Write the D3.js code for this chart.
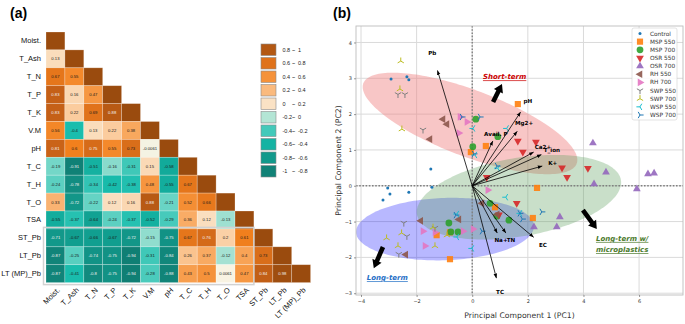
<!DOCTYPE html>
<html>
<head>
<meta charset="utf-8">
<script src="https://cdn.jsdelivr.net/npm/d3@7"></script>
<style>
  body { margin: 0; background: #fff; }
  svg { display: block; }
</style>
</head>
<body>
<svg id="chart" width="685" height="324"></svg>
<script>
// ---------- panel (a): correlation matrix ----------
const vars = ["Moist.", "T_Ash", "T_N", "T_P", "T_K", "V.M", "pH", "T_C", "T_H", "T_O", "TSA", "ST_Pb", "LT_Pb", "LT (MP)_Pb"];
// lower triangle, row by row (diagonal = 1 is implied)
const corrRows = [
  [],
  [0.13],
  [0.67, 0.55],
  [0.83, 0.16, 0.47],
  [0.83, 0.22, 0.69, 0.88],
  [0.56, -0.4, 0.13, 0.22, 0.38],
  [0.81, 0.6, 0.75, 0.55, 0.73, -0.0061],
  [-0.19, -0.91, -0.51, -0.16, -0.31, 0.15, -0.58],
  [-0.24, -0.78, -0.34, -0.42, -0.38, 0.48, -0.55, 0.67],
  [0.33, -0.72, -0.22, 0.12, 0.16, 0.88, -0.21, 0.52, 0.66],
  [-0.55, -0.37, -0.64, -0.24, -0.37, -0.52, -0.29, 0.36, 0.12, -0.13],
  [-0.71, -0.67, -0.66, -0.67, -0.72, -0.15, -0.75, 0.67, 0.76, 0.2, 0.61],
  [-0.87, -0.25, -0.74, -0.75, -0.94, -0.31, -0.84, 0.26, 0.37, -0.12, 0.4, 0.73],
  [-0.87, -0.41, -0.8, -0.75, -0.94, -0.28, -0.88, 0.43, 0.5, 0.0061, 0.47, 0.84, 0.98]
];
const binLow = ["0.8", "0.6", "0.4", "0.2", "0", "-0.2", "-0.4", "-0.6", "-0.8", "-1"];
const binHigh = ["1", "0.8", "0.6", "0.4", "0.2", "0", "-0.2", "-0.4", "-0.6", "-0.8"];

// ---------- panel (b): PCA biplot ----------
const groups = ["Control", "MSP 550", "MSP 700", "OSR 550", "OSR 700", "RH 550", "RH 700", "SWP 550", "SWP 700", "WSP 550", "WSP 700"];
const ptsControl = [[-2.92, 2.98], [-2.35, 3.04], [-2.28, 2.96], [-1.49, 0.47], [-3.04, -0.06], [-2.96, -0.23], [-3.21, -0.4], [-2.28, -0.18], [-1.45, -0.04]];
const ptsMSP550 = [[1.64, 2.28], [0.49, 1.11], [-0.05, 0.94], [2.33, -0.06], [0.82, -0.6], [2.18, -0.9], [-1.28, -1.38], [-0.8, -1.3], [-0.8, -2.05]];
const ptsMSP700 = [[0.13, 1.86], [0.92, 1.37], [0.02, 1.09], [0.64, -0.49], [1.32, -0.96], [0.89, -0.85], [-0.84, -1.04], [-0.77, -1.29], [-0.51, -1.29]];
const ptsOSR550 = [[1.64, 1.25], [2.29, 1.22], [1.82, 0.94], [3.23, 0.5], [3.41, 0.24], [4.16, 0.49], [1.6, -0.49], [0.52, 0.24], [0.96, -0.81]];
const ptsOSR700 = [[4.34, 1.19], [4.81, 0.38], [6.32, 0.33], [6.54, 0.35], [4.38, 0.05], [5.92, -0.09], [3.15, -0.87], [3.04, -1.15], [2.22, -1.15]];
const ptsRH550 = [[-1.05, 1.86], [-0.91, 1.72], [-1.52, 1.3], [-1.85, -0.98], [-0.48, -0.94], [-2.39, -1.92], [0.35, -0.49], [0.9, -0.8]];
const ptsRH700 = [[-0.44, 1.92], [-0.19, 1.78], [-0.48, 1.47], [0.56, -0.12], [-1.77, -1.27], [-1.34, -1.3], [-0.33, -1.27], [0.03, -1.21], [-1.7, -1.68]];
const ptsSWP550 = [[-2.67, 2.55], [-2.42, 2.55], [-1.77, 1.56], [-2.46, -1.04], [-2.35, -1.41], [-1.34, -1.18], [-2.64, -1.91]];
const ptsSWP700 = [[-2.57, 3.48], [-2.6, 2.7], [-2.53, 1.58], [-3.08, -1.46], [-2.54, -1.32], [-2.67, -1.68], [-1.34, -1.68], [-0.91, -1.38], [-1.41, -1.16]];
const ptsWSP550 = [[0.03, 1.6], [0.1, 0.86], [1.24, 1.6], [0.92, 0.49], [1.21, -0.32], [1.72, -0.77], [-0.55, -0.79], [-0.55, -1.43], [-0.01, -1.75]];
const ptsWSP700 = [[-0.37, 1.92], [0.28, 1.92], [0.06, 0.89], [0.89, 0.55], [1.71, -0.77], [1.8, -0.93], [2.5, -0.73], [0.35, -1.27], [-0.59, -0.82]];
const groupPoints = [ptsControl, ptsMSP550, ptsMSP700, ptsOSR550, ptsOSR700, ptsRH550, ptsRH700, ptsSWP550, ptsSWP700, ptsWSP550, ptsWSP700];

// loading vectors (PC1, PC2)
const loadNames = ["Pb", "pH", "Mg2+", "Avail. P", "Ca2+", "T_ion", "K+", "Na+", "TN", "EC", "TC"];
const loadPC1 = [-1.25, 1.74, 1.62, 0.74, 2.21, 2.49, 2.52, 0.9, 1.21, 2.21, 0.87];
const loadPC2 = [3.22, 2.06, 1.52, 1.25, 0.94, 0.87, 0.55, -1.32, -1.32, -1.44, -2.58];

// group ellipses: centre, semi axes, angle (deg) in PC units
const ellipseNames = ["Short-term", "Long-term", "Long-term w/ microplastics"];
const ellCx = [-0.08, -0.98, 1.68];
const ellCy = [1.74, -1.21, -0.32];
const ellRx = [4.0, 3.2, 3.7];
const ellRy = [0.95, 0.87, 1.1];
const ellAngle = [-15.7, 1.5, 7];

// annotation arrows (from -> to) in PC units
const noteFrom = [[0.75, 2.34], [-3.21, -1.71], [3.98, -0.68]];
const noteTo = [[1.07, 2.84], [-3.54, -2.3], [4.48, -1.21]];

const xTicks = [-4, -2, 0, 2, 4, 6];
const yTicks = [-3, -2, -1, 0, 1, 2, 3, 4];

const svg = d3.select("#chart");

// ================= panel (a) =================
const fontA = "'Liberation Sans', Arial, sans-serif";
svg.append("text").attr("x", 10).attr("y", 18)
  .style("font-family", fontA).style("font-size", "14px").style("font-weight", "bold")
  .text("(a)");

const xb = d3.scaleBand().domain(vars).range([46, 46 + 14 * 18.9]);
const yb = d3.scaleBand().domain(vars).range([32, 32 + 14 * 17.9]);

const corrColor = d3.scaleLinear()
  .domain([-1, -0.8, -0.6, -0.4, -0.2, 0, 0.2, 0.4, 0.6, 0.8, 1])
  .range(["#0f7a70", "#128a7e", "#11a898", "#19bdad", "#6dd5c6", "#f8f4e4", "#fbd0a6", "#f8a356", "#f2801d", "#cc6418", "#9a4b0e"])
  .interpolate(d3.interpolateRgb);

const cells = [];
vars.forEach((rv, i) => {
  for (let j = 0; j <= i; j++) {
    cells.push({ row: rv, col: vars[j], v: j === i ? 1 : corrRows[i][j], diag: j === i });
  }
});

const gA = svg.append("g");
gA.selectAll("rect.cell").data(cells).join("rect")
  .attr("class", "cell")
  .attr("x", d => xb(d.col)).attr("y", d => yb(d.row))
  .attr("width", xb.bandwidth()).attr("height", yb.bandwidth())
  .attr("fill", d => corrColor(d.v))
  .attr("stroke", "#ffffff").attr("stroke-opacity", 0.35).attr("stroke-width", 0.7);

gA.selectAll("text.val").data(cells.filter(d => !d.diag)).join("text")
  .attr("class", "val")
  .attr("x", d => xb(d.col) + xb.bandwidth() / 2)
  .attr("y", d => yb(d.row) + yb.bandwidth() / 2)
  .attr("text-anchor", "middle").attr("dominant-baseline", "central")
  .style("font-family", fontA).style("font-size", "4.2px")
  .attr("fill", d => d3.lab(corrColor(d.v)).l < 58 ? "#f2f2f2" : "#1a1a1a")
  .text(d => d.v);

// grey frame round the Pb rows
gA.append("rect")
  .attr("x", xb("Moist.") - 2.5).attr("y", yb("ST_Pb") - 1.5)
  .attr("width", xb("ST_Pb") - xb("Moist.") + 2.5)
  .attr("height", 3 * yb.step() + 3.5)
  .attr("fill", "none").attr("stroke", "#d2d2d2").attr("stroke-width", 1.5);

gA.selectAll("text.rowlab").data(vars).join("text")
  .attr("class", "rowlab")
  .attr("x", 41).attr("y", d => yb(d) + yb.bandwidth() / 2)
  .attr("text-anchor", "end").attr("dominant-baseline", "central")
  .style("font-family", fontA).style("font-size", "7.5px").attr("fill", "#111")
  .text(d => d);

gA.selectAll("text.collab").data(vars).join("text")
  .attr("class", "collab")
  .attr("transform", d => `translate(${xb(d) + xb.bandwidth() / 2 + 5},${yb.range()[1] + 8}) rotate(-45)`)
  .attr("text-anchor", "end")
  .style("font-family", fontA).style("font-size", "7.5px").attr("fill", "#111")
  .text(d => d);

// legend of (a)
const legA = gA.append("g");
const legY = d3.scaleBand().domain(d3.range(binLow.length)).range([44, 44 + 10 * 13.5]);
binLow.forEach((lo, k) => {
  const mid = (+lo + +binHigh[k]) / 2;
  legA.append("rect")
    .attr("x", 261).attr("y", legY(k)).attr("width", 15).attr("height", 11.5)
    .attr("fill", corrColor(mid)).attr("stroke", "#8a8a8a").attr("stroke-width", 0.6);
  const t = legA.append("g").style("font-family", fontA).style("font-size", "5.5px").attr("fill", "#222");
  const ty = legY(k) + 5.75;
  t.append("text").attr("x", 282.5).attr("y", ty).attr("dominant-baseline", "central").text(lo);
  t.append("text").attr("x", 292).attr("y", ty).attr("dominant-baseline", "central").text("~");
  t.append("text").attr("x", 298).attr("y", ty).attr("dominant-baseline", "central").text(binHigh[k]);
});

// ================= panel (b) =================
const fontB = "'DejaVu Sans', sans-serif";
svg.append("text").attr("x", 333).attr("y", 18)
  .style("font-family", fontA).style("font-size", "14px").style("font-weight", "bold")
  .text("(b)");

const plot = { left: 356, right: 683, top: 26, bottom: 295 };
const x = d3.scaleLinear().domain([-4.18, 7.58]).range([plot.left, plot.right]);
const y = d3.scaleLinear().domain([-3.05, 4.46]).range([plot.bottom, plot.top]);

const gB = svg.append("g");
gB.append("clipPath").attr("id", "clipB").append("rect")
  .attr("x", plot.left).attr("y", plot.top)
  .attr("width", plot.right - plot.left).attr("height", plot.bottom - plot.top);

// grid
gB.append("g").selectAll("line").data(xTicks).join("line")
  .attr("x1", d => x(d)).attr("x2", d => x(d)).attr("y1", plot.top).attr("y2", plot.bottom)
  .attr("stroke", "#dadada").attr("stroke-width", 1);
gB.append("g").selectAll("line").data(yTicks).join("line")
  .attr("y1", d => y(d)).attr("y2", d => y(d)).attr("x1", plot.left).attr("x2", plot.right)
  .attr("stroke", "#dadada").attr("stroke-width", 1);

// ellipses
const ellFill = ["#f08080", "#0000ff", "#5a9e5a"];
const ellOpacity = [0.45, 0.28, 0.33];
const ellLine = d3.line().curve(d3.curveLinearClosed);
const gEll = gB.append("g").attr("clip-path", "url(#clipB)");
[0, 1, 2].forEach(k => {
  const a = ellAngle[k] * Math.PI / 180;
  const pts = d3.range(0, 2 * Math.PI, Math.PI / 90).map(t => {
    const ex = ellCx[k] + ellRx[k] * Math.cos(t) * Math.cos(a) - ellRy[k] * Math.sin(t) * Math.sin(a);
    const ey = ellCy[k] + ellRx[k] * Math.cos(t) * Math.sin(a) + ellRy[k] * Math.sin(t) * Math.cos(a);
    return [x(ex), y(ey)];
  });
  gEll.append("path").attr("d", ellLine(pts))
    .attr("fill", ellFill[k]).attr("fill-opacity", ellOpacity[k]).attr("stroke", "none");
});

// zero lines
gB.append("line").attr("x1", x(0)).attr("x2", x(0)).attr("y1", plot.top).attr("y2", plot.bottom)
  .attr("stroke", "#808080").attr("stroke-width", 1.4).attr("stroke-dasharray", "1.6,1.6");
gB.append("line").attr("y1", y(0)).attr("y2", y(0)).attr("x1", plot.left).attr("x2", plot.right)
  .attr("stroke", "#808080").attr("stroke-width", 1.4).attr("stroke-dasharray", "1.6,1.6");

// marker shapes
const colors = ["#1f77b4", "#ff7f0e", "#2ca02c", "#d62728", "#9467bd", "#8c564b", "#e377c2", "#7f7f7f", "#bcbd22", "#17becf", "#1f77b4"];
const shapes = ["dot", "square", "circle", "tri", "tri", "tri", "tri", "y", "y", "y", "y"];
const rotations = [0, 0, 0, 180, 0, -90, 90, 180, 0, -90, 90];
function yPath(r) {
  // three-armed "tri" marker, stem pointing up before rotation
  return [-90, 30, 150].map(deg => {
    const rad = deg * Math.PI / 180;
    return `M0,0L${(r * Math.cos(rad)).toFixed(2)},${(r * Math.sin(rad)).toFixed(2)}`;
  }).join("");
}
function drawMarker(sel, gi) {
  const c = colors[gi];
  const s = shapes[gi];
  if (s === "dot") {
    sel.append("circle").attr("r", 1.5).attr("fill", c);
  } else if (s === "square") {
    sel.append("path").attr("d", d3.symbol(d3.symbolSquare, 38)()).attr("fill", c).attr("fill-opacity", 0.9);
  } else if (s === "circle") {
    sel.append("path").attr("d", d3.symbol(d3.symbolCircle, 36)()).attr("fill", c).attr("fill-opacity", 0.9);
  } else if (s === "tri") {
    sel.append("path").attr("d", d3.symbol(d3.symbolTriangle, 26)())
      .attr("transform", `rotate(${rotations[gi]})`).attr("fill", c).attr("fill-opacity", 0.9);
  } else {
    sel.append("path").attr("d", yPath(3.6))
      .attr("transform", `rotate(${rotations[gi]})`)
      .attr("fill", "none").attr("stroke", c).attr("stroke-width", 1);
  }
}

const gPts = gB.append("g");
groupPoints.forEach((pts, gi) => {
  pts.forEach(p => {
    const m = gPts.append("g").attr("transform", `translate(${x(p[0])},${y(p[1])})`);
    drawMarker(m, gi);
  });
});

// loading arrows
const defs = svg.append("defs");
defs.append("marker").attr("id", "ahead")
  .attr("viewBox", "0 0 10 10").attr("refX", 10).attr("refY", 5)
  .attr("markerWidth", 4.5).attr("markerHeight", 4.5)
  .attr("markerUnits", "userSpaceOnUse").attr("orient", "auto")
  .append("path").attr("d", "M0,1L10,5L0,9z").attr("fill", "#000");

const gLoad = gB.append("g");
loadNames.forEach((nm, k) => {
  gLoad.append("line")
    .attr("x1", x(0)).attr("y1", y(0))
    .attr("x2", x(loadPC1[k])).attr("y2", y(loadPC2[k]))
    .attr("stroke", "#000").attr("stroke-width", 0.8)
    .attr("marker-end", "url(#ahead)");
});
loadNames.forEach((nm, k) => {
  gLoad.append("text")
    .attr("x", x(loadPC1[k] * 1.15)).attr("y", y(loadPC2[k] * 1.15))
    .attr("text-anchor", "middle").attr("dominant-baseline", "central")
    .style("font-family", fontB).style("font-size", "5.6px").style("font-weight", "bold")
    .attr("fill", "#000").text(nm);
});

// thick annotation arrows
const gNote = gB.append("g");
noteFrom.forEach((f, k) => {
  const p1 = [x(f[0]), y(f[1])];
  const p2 = [x(noteTo[k][0]), y(noteTo[k][1])];
  const dx = p2[0] - p1[0], dy = p2[1] - p1[1];
  const len = Math.hypot(dx, dy);
  const ux = dx / len, uy = dy / len, nx = -uy, ny = ux;
  const hl = 8, hw = 5, sw = 2.3;
  const b = [p2[0] - ux * hl, p2[1] - uy * hl];
  const poly = [
    [p1[0] + nx * sw, p1[1] + ny * sw], [b[0] + nx * sw, b[1] + ny * sw], [b[0] + nx * hw, b[1] + ny * hw],
    p2, [b[0] - nx * hw, b[1] - ny * hw], [b[0] - nx * sw, b[1] - ny * sw], [p1[0] - nx * sw, p1[1] - ny * sw]
  ];
  gNote.append("path").attr("d", "M" + poly.map(p => p.join(",")).join("L") + "Z").attr("fill", "#000");
});

// group annotations
const noteStyle = sel => sel.style("font-family", fontB).style("font-size", "7px")
  .style("font-style", "italic").style("font-weight", "bold").style("text-decoration", "underline");
gNote.append("text").attr("x", x(0.385)).attr("y", y(2.97)).attr("fill", "#cc0000")
  .call(noteStyle).text(ellipseNames[0]);
gNote.append("text").attr("x", x(-3.79)).attr("y", y(-2.64)).attr("fill", "#1f6fc6")
  .call(noteStyle).text(ellipseNames[1]);
gNote.append("text").attr("x", x(4.45)).attr("y", y(-1.54)).attr("fill", "#4b7a2c")
  .call(noteStyle).text("Long-term w/");
gNote.append("text").attr("x", x(4.45)).attr("y", y(-1.85)).attr("fill", "#4b7a2c")
  .call(noteStyle).text("microplastics");

// frame
gB.append("rect").attr("x", plot.left).attr("y", plot.top)
  .attr("width", plot.right - plot.left).attr("height", plot.bottom - plot.top)
  .attr("fill", "none").attr("stroke", "#bdbdbd").attr("stroke-width", 0.9);

// axes
const xAxis = gB.append("g").attr("transform", `translate(0,${plot.bottom})`)
  .call(d3.axisBottom(x).tickValues(xTicks).tickFormat(d3.format("d")).tickSize(2).tickPadding(2));
const yAxis = gB.append("g").attr("transform", `translate(${plot.left},0)`)
  .call(d3.axisLeft(y).tickValues(yTicks).tickFormat(d3.format("d")).tickSize(2).tickPadding(2));
[xAxis, yAxis].forEach(a => {
  a.select(".domain").remove();
  a.selectAll(".tick line").attr("stroke", "#555").attr("stroke-width", 0.6);
  a.selectAll(".tick text").style("font-family", fontB).style("font-size", "5px").attr("fill", "#333");
});

gB.append("text").attr("x", (plot.left + plot.right) / 2).attr("y", 318)
  .attr("text-anchor", "middle")
  .style("font-family", fontB).style("font-size", "7.7px").attr("fill", "#333")
  .text("Principal Component 1 (PC1)");
gB.append("text")
  .attr("transform", `translate(341,${(plot.top + plot.bottom) / 2}) rotate(-90)`)
  .attr("text-anchor", "middle")
  .style("font-family", fontB).style("font-size", "7.7px").attr("fill", "#333")
  .text("Principal Component 2 (PC2)");

// legend of (b)
const legB = gB.append("g");
legB.append("rect").attr("x", 632).attr("y", 28).attr("width", 45).attr("height", 92).attr("rx", 2)
  .attr("fill", "#fff").attr("fill-opacity", 0.85).attr("stroke", "#d0d0d0").attr("stroke-width", 0.6);
const legBy = d3.scalePoint().domain(groups).range([33.5, 115]);
groups.forEach((g, gi) => {
  const m = legB.append("g").attr("transform", `translate(640,${legBy(g)})`);
  drawMarker(m, gi);
  legB.append("text").attr("x", 650).attr("y", legBy(g)).attr("dominant-baseline", "central")
    .style("font-family", fontB).style("font-size", "5.8px").attr("fill", "#333")
    .text(g);
});
</script>
</body>
</html>
